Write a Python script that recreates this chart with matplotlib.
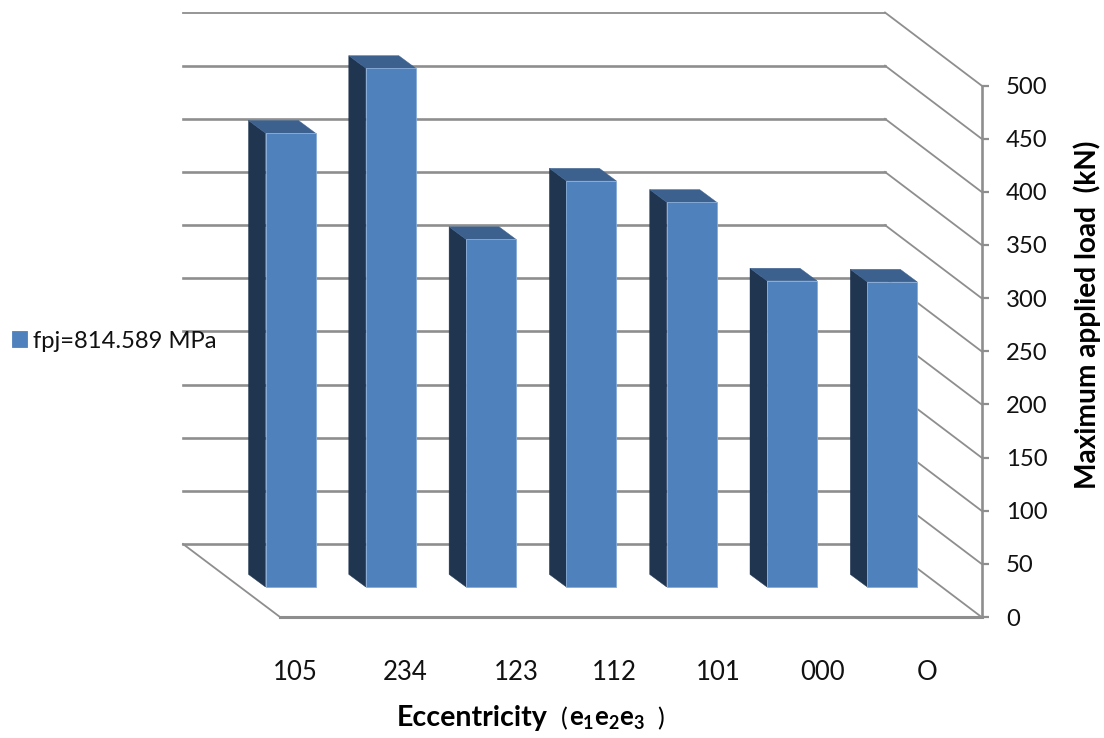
import numpy as np
import matplotlib
matplotlib.use("Agg")
import matplotlib.pyplot as plt
from matplotlib.patches import Polygon

plt.rcParams['font.family'] = ['Lato', 'DejaVu Sans']
plt.rcParams['mathtext.fontset'] = 'custom'
plt.rcParams['mathtext.bf'] = 'Lato:bold'

# data
categories = ['105', '234', '123', '112', '101', '000', 'O']
loads = [427, 488, 327, 382, 362, 288, 287]
load_ticks = [0, 50, 100, 150, 200, 250, 300, 350, 400, 450, 500]
series_name = 'fpj=814.589 MPa'

W, H = 1104, 738
PX_PER_KN = 531.5 / 500
BAR_X0 = 290.5       # pixel centre of first bar
BAR_STEP = 100.3     # pixels between bars
BAR_BASE = 587       # pixel row of value 0 on the bars' front plane

GRID = '#8e8e8e'
FRONT = '#4f81bd'
SIDE = '#1f3550'
TOP = '#3c618e'


def px_x(p):
    return (p - BAR_X0) / BAR_STEP


def px_y(p):
    return (BAR_BASE - p) / PX_PER_KN


fig = plt.figure(figsize=(W / 100, H / 100), dpi=100)
ax = fig.add_axes([0, 0, 1, 1])
ax.set_xlim(px_x(0), px_x(W))
ax.set_ylim(px_y(H), px_y(0))
ax.axis('off')

# walls and floor
back_l, back_r = px_x(183), px_x(885)
front_l, front_r = px_x(280), px_x(981.5)
back_dy = px_y(544)    # back wall lift above the bar plane
front_dy = px_y(617)   # front axis drop below the bar plane
for v in load_ticks:
    lw = 1.3 if v == 500 else 1.9
    ax.plot([back_l, back_r], [v + back_dy, v + back_dy], color=GRID, lw=lw, zorder=1)
    ax.plot([back_r, front_r], [v + back_dy, v + front_dy], color=GRID, lw=1.3, zorder=1)
ax.plot([back_l, front_l], [back_dy, front_dy], color=GRID, lw=1.3, zorder=1)
ax.plot([front_l, front_r], [front_dy, front_dy], color=GRID, lw=2.2, zorder=1)

# bars: the front faces are plain bars, side and top are sheared from them
pos = np.arange(len(categories))
width = 50 / BAR_STEP
depth_x = 17 / BAR_STEP
depth_y = 12.6 / PX_PER_KN
ax.bar(pos, loads, width=width, color=FRONT, edgecolor='#86abd8', linewidth=0.6,
       zorder=4, label=series_name)
for x, v in zip(pos, loads):
    x0 = x - width / 2
    x1 = x + width / 2
    ax.add_patch(Polygon([[x0, 0], [x0, v], [x0 - depth_x, v + depth_y], [x0 - depth_x, depth_y]],
                         closed=True, fc=SIDE, ec=SIDE, lw=0.3, zorder=3))
    ax.add_patch(Polygon([[x0, v], [x1, v], [x1 - depth_x, v + depth_y], [x0 - depth_x, v + depth_y]],
                         closed=True, fc=TOP, ec=TOP, lw=0.3, zorder=3))

# value axis at the front right corner
ax_val = fig.add_axes([981.5 / W, (H - 617) / H, 0.0001, 531.5 / H])
ax_val.set_ylim(0, 500)
ax_val.set_xticks([])
ax_val.patch.set_visible(False)
ax_val.yaxis.tick_right()
ax_val.set_yticks(load_ticks)
ax_val.tick_params(axis='y', length=5, width=1.6, color=GRID, pad=12.5, labelsize=17.2, labelcolor='#111111')
for s in ['top', 'bottom', 'left']:
    ax_val.spines[s].set_visible(False)
ax_val.spines['right'].set_color(GRID)
ax_val.spines['right'].set_linewidth(1.9)

# category labels, their spacing differs a bit from the bars
label_px = [295, 405, 516, 614, 718, 823, 927]
ax_cat = fig.add_axes([0, (H - 657) / H, 1, 0.0001])
ax_cat.set_xlim(0, W)
ax_cat.set_yticks([])
ax_cat.patch.set_visible(False)
ax_cat.set_xticks(label_px, categories)
ax_cat.tick_params(axis='x', length=0, pad=2, labelsize=18.5, labelcolor='#111111')
for s in ax_cat.spines.values():
    s.set_visible(False)

# axis titles
fig.text(397 / W, 1 - 718 / H, 'Eccentricity', fontsize=20.6, fontweight='bold', va='center', ha='left')
fig.text(561 / W, 1 - 719 / H, '(', fontsize=18, va='center', ha='left')
fig.text(569 / W, 1 - 719 / H, r'$\mathbf{e_1e_2e_3}$', fontsize=18.5, va='center', ha='left')
fig.text(657 / W, 1 - 719 / H, ')', fontsize=18, va='center', ha='left')
fig.text(1087 / W, 1 - 315 / H, 'Maximum applied load  (kN)', fontsize=20.2, fontweight='bold',
         rotation=90, va='center', ha='center')

# legend
leg = ax.legend(loc='center left', bbox_to_anchor=(-7 / W, 1 - 341 / H), bbox_transform=fig.transFigure,
                frameon=False, fontsize=17.1, handlelength=0.62, handleheight=0.62,
                handletextpad=0.25, borderpad=0.3, labelcolor='#111111')
for h in leg.legend_handles:
    h.set_edgecolor(FRONT)

fig.savefig('out.png', dpi=100)
